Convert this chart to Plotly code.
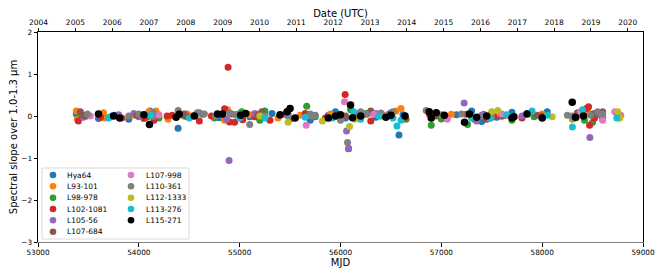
import datetime
import plotly.graph_objects as go

# ---- data ----
stars = ["Hya64", "L93-101", "L98-978", "L102-1081", "L105-56", "L107-684",
         "L107-998", "L110-361", "L112-1333", "L113-276", "L115-271"]
colors = ["#1f77b4", "#ff7f0e", "#2ca02c", "#d62728", "#9467bd", "#8c564b",
          "#e377c2", "#7f7f7f", "#bcbd22", "#17becf", "#000000"]

hya64_mjd = [53380, 53420, 53600, 53760, 53900, 54110, 54180, 54389, 54560, 54800, 54980, 55100,
             55320, 55500, 55700, 55950, 56050, 56200, 56350, 56580, 56620, 56950, 57150, 57300,
             57400, 57550, 57700, 57850, 58050, 58400, 58600, 58750, 56480, 55880, 57330]
hya64_slope = [0.05, -0.03, -0.06, 0.02, -0.08, 0.12, 0.05, -0.29, 0.02, -0.04, 0.04, -0.02,
               0.06, -0.07, -0.10, 0.10, -0.05, 0.08, -0.03, -0.45, 0.03, 0.07, 0.03, 0.12,
               -0.13, -0.03, 0.09, 0.06, 0.10, 0.02, -0.05, 0.00, 0.04, 0.02, -0.08]

l93_mjd = [53380, 53390, 53650, 53660, 53950, 54100, 54170, 54290, 54480, 54520, 54850, 54880,
           55100, 55380, 55600, 55900, 56010, 56300, 56550, 56600, 56900, 57100, 57500, 57800,
           58000, 58300, 58450, 58760, 56420, 57560, 58340]
l93_slope = [0.12, -0.08, 0.08, -0.05, 0.02, 0.10, 0.12, -0.08, 0.05, 0.00, -0.10, 0.15,
             0.03, -0.05, 0.02, 0.05, -0.02, 0.08, 0.12, 0.18, -0.05, 0.04, 0.08, -0.02,
             0.05, -0.08, 0.10, -0.05, 0.03, 0.06, -0.04]

l98_mjd = [53430, 53700, 54080, 54200, 54450, 54630, 54750, 55200, 55250, 55665, 55750, 56100,
           56250, 56400, 56650, 56900, 57000, 57260, 57350, 57700, 57920, 58350, 58420, 58500, 58550,
           55020, 56170]
l98_slope = [0.02, -0.04, -0.03, -0.05, 0.00, 0.04, -0.05, -0.10, 0.12, 0.23, -0.02, 0.15,
             0.06, 0.00, -0.08, -0.22, -0.07, -0.20, -0.05, -0.10, -0.02, 0.05, -0.10, -0.15, 0.03,
             0.10, 0.03]

l102_mjd = [53400, 53450, 53620, 53830, 54150, 54280, 54480, 54600, 54720, 54850, 54885, 54900,
            54950, 55150, 55300, 55450, 55650, 55850, 56046, 56080, 56150, 56300, 56500, 56640,
            56880, 57050, 57250, 57450, 57600, 57800, 58000, 58440, 58460, 58470, 58520,
            54050, 54330, 55030, 56220, 57520, 57640, 58500]
l102_slope = [-0.12, 0.00, -0.03, -0.05, -0.10, 0.00, -0.02, -0.12, 0.00, 0.17, 1.16, -0.14,
              -0.15, -0.02, -0.10, 0.04, 0.06, -0.05, 0.51, -0.78, -0.05, -0.12, 0.00, -0.04,
              0.05, -0.05, 0.04, -0.08, 0.00, -0.05, 0.00, 0.18, 0.22, -0.22, -0.05,
              -0.06, 0.02, -0.09, 0.03, -0.02, 0.02, 0.04]

l105_mjd = [53450, 53800, 53950, 54000, 54150, 54600, 54870, 54895, 55150, 55480, 55720, 56060,
            56080, 56250, 56350, 57226, 57350, 57400, 57800, 58473, 58550, 58600, 56290, 57420]
l105_slope = [-0.03, 0.03, 0.06, -0.02, -0.01, 0.08, -0.08, -1.06, 0.06, 0.04, 0.00, -0.36,
              -0.77, 0.04, 0.06, 0.31, -0.12, 0.02, 0.00, -0.51, 0.05, -0.02, 0.08, 0.04]

l107a_mjd = [53420, 53450, 53480, 53980, 54450, 54920, 55220, 55400, 56050, 56300, 56500, 56950,
             57600, 57950, 58350, 58520, 58600, 55180, 56180]
l107a_slope = [0.10, 0.02, 0.00, 0.02, 0.05, 0.05, 0.10, 0.02, 0.00, 0.12, 0.08, 0.00,
               0.00, 0.02, 0.08, 0.06, 0.10, 0.03, 0.02]

l107b_mjd = [53520, 54200, 54980, 55660, 55950, 56040, 56200, 56450, 57060, 57600, 58380, 58600,
             58720, 58780, 56330]
l107b_slope = [0.00, 0.03, 0.02, -0.22, 0.00, 0.34, 0.05, 0.00, -0.08, 0.05, 0.10, -0.10,
               0.10, 0.02, 0.04]

l110_mjd = [53490, 53900, 54000, 54140, 54390, 54580, 54650, 54760, 54900, 54960, 55100, 55250,
            55480, 55700, 55750, 56000, 56070, 56200, 56400, 56850, 57000, 57200, 57300, 57500,
            57700, 58250, 58300, 58550, 58600, 58750, 55720, 56260, 56520, 57400, 58480]
l110_slope = [0.05, 0.00, 0.05, 0.08, 0.13, 0.08, 0.05, 0.00, 0.07, 0.03, -0.20, 0.00,
              0.00, 0.05, 0.02, -0.10, -0.63, 0.10, 0.07, 0.13, 0.03, 0.05, -0.05, -0.03,
              -0.02, 0.02, 0.00, 0.10, 0.05, 0.03, 0.00, 0.04, 0.10, 0.00, 0.02]

l112_mjd = [55200, 55480, 55820, 56090, 56140, 57500, 57560, 58100, 58750, 58770]
l112_slope = [0.00, -0.15, -0.12, -0.25, -0.08, 0.10, 0.13, -0.02, 0.10, -0.05]

l113_mjd = [53700, 53730, 54120, 54500, 55000, 55250, 55650, 55920, 56200, 56380, 56520, 56560,
            56600, 57300, 57650, 57900, 58050, 58300, 58320, 58400, 58740, 56130, 57480]
l113_slope = [-0.05, 0.00, 0.02, -0.05, -0.05, -0.05, -0.03, -0.05, -0.08, 0.00, -0.05, -0.24,
              -0.10, -0.03, 0.03, 0.12, 0.02, -0.26, -0.05, 0.15, -0.05, 0.10, -0.06]

l115_mjd = [53600, 53750, 53810, 54050, 54105, 54370, 54400, 54550, 54780, 54830, 55010, 55060,
            55400, 55470, 55500, 55550, 55880, 55950, 56000, 56100, 56120, 56200, 56450, 56500,
            56640, 56880, 56900, 56950, 57030, 57230, 57280, 57350, 57450, 57700, 57720, 57850,
            58000, 58298, 58330, 58410]
l115_slope = [0.05, 0.00, -0.05, 0.03, -0.20, -0.03, 0.04, 0.00, 0.05, 0.05, 0.02, 0.06,
              0.03, 0.10, 0.18, -0.05, -0.05, 0.00, 0.03, 0.26, -0.04, 0.00, -0.03, 0.02,
              0.00, 0.10, -0.05, 0.08, 0.02, -0.15, 0.05, -0.03, 0.00, -0.05, -0.02, 0.05,
              -0.05, 0.33, -0.03, 0.00]

series_mjd = [hya64_mjd, l93_mjd, l98_mjd, l102_mjd, l105_mjd, l107a_mjd,
              l107b_mjd, l110_mjd, l112_mjd, l113_mjd, l115_mjd]
series_slope = [hya64_slope, l93_slope, l98_slope, l102_slope, l105_slope, l107a_slope,
                l107b_slope, l110_slope, l112_slope, l113_slope, l115_slope]

mjd_ticks = [53000, 54000, 55000, 56000, 57000, 58000, 59000]
slope_ticks = [-3, -2, -1, 0, 1, 2]
years = list(range(2004, 2021))

# ---- figure ----
# the page body has an 8px default margin, so the figure is made 8px smaller
OFF = 8
W, H = 664 - OFF, 277 - OFF
ML, MR, MT, MB = 38 - OFF, 21, 32 - OFF, 35
PW, PH = W - ML - MR, H - MT - MB

mjd_epoch = datetime.date(1858, 11, 17)
year_mjd = [(datetime.date(y, 1, 1) - mjd_epoch).days for y in years]

fig = go.Figure()
for name, col, xs, ys in zip(stars, colors, series_mjd, series_slope):
    fig.add_trace(go.Scatter(
        x=xs, y=ys, mode="markers", name=name, showlegend=False,
        marker=dict(color=col, size=7.5 if col == "#000000" else 7, line=dict(width=0)),
    ))
# carrier trace for the top (date) axis
fig.add_trace(go.Scatter(x=[None], y=[None], xaxis="x2", showlegend=False, hoverinfo="skip"))

font = "DejaVu Sans"
fig.update_layout(
    width=W, height=H,
    margin=dict(l=ML, r=MR, t=MT, b=MB, pad=0, autoexpand=False),
    paper_bgcolor="white", plot_bgcolor="white",
    font=dict(family=font, color="black", size=7.5),
    xaxis=dict(
        range=[53000, 59000], tickvals=mjd_ticks, ticktext=[str(v) for v in mjd_ticks],
        ticks="outside", ticklen=3.5, tickwidth=0.8, automargin=False,
        tickcolor="black", showgrid=False, zeroline=False, showline=True, linecolor="#808080",
        linewidth=1.3, tickfont=dict(size=7.3),
        title=dict(text="MJD", font=dict(size=10), standoff=2),
    ),
    xaxis2=dict(
        overlaying="x", side="top", anchor="y", range=[53000, 59000], automargin=False,
        tickvals=year_mjd, ticktext=[str(y) for y in years],
        ticks="outside", ticklen=3.5, tickwidth=0.8, tickcolor="black",
        showgrid=False, zeroline=False, showline=True, linecolor="black", linewidth=1,
        tickfont=dict(size=7.5),
        title=dict(text="Date (UTC)", font=dict(size=10), standoff=2),
    ),
    yaxis=dict(
        range=[-3, 2], tickvals=slope_ticks, ticks="outside", ticklen=3.5, tickwidth=0.8,
        tickcolor="black", showgrid=False, zeroline=False, showline=True, linecolor="black",
        linewidth=1, mirror=True, tickfont=dict(size=7.3), automargin=False,
        title=dict(text="Spectral slope over 1.0-1.3 μm", font=dict(size=10), standoff=5),
    ),
)

# ---- hand-built legend (two columns, compact like the reference) ----
def px2paper(px, py):
    # px, py are page pixel coordinates
    return (px - OFF - ML) / PW, (MT + PH - (py - OFF)) / PH

shapes = []
annotations = []
bx0, by0 = px2paper(42, 239)
bx1, by1 = px2paper(189, 168)
shapes.append(dict(type="rect", xref="paper", yref="paper", x0=bx0, y0=by0, x1=bx1, y1=by1,
                   line=dict(color="#d0d0d0", width=0.8), fillcolor="rgba(255,255,255,0.8)",
                   layer="above"))
row_y = [175, 186.3, 197.7, 209, 220.3, 231.7]
for i, (name, col) in enumerate(zip(stars, colors)):
    c = 0 if i < 6 else 1
    r = i if i < 6 else i - 6
    mx = 53 if c == 0 else 131
    tx = 65 if c == 0 else 144
    mxp, myp = px2paper(mx, row_y[r])
    shapes.append(dict(type="circle", xref="paper", yref="paper", xsizemode="pixel",
                       ysizemode="pixel", xanchor=mxp, yanchor=myp, x0=-3.3, x1=3.3,
                       y0=-3.3, y1=3.3, fillcolor=col, line=dict(width=0), layer="above"))
    txp, typ = px2paper(tx, row_y[r])
    annotations.append(dict(text=name, xref="paper", yref="paper", x=txp, y=typ,
                            xanchor="left", yanchor="middle", showarrow=False,
                            font=dict(size=7.5, family=font, color="black")))
fig.update_layout(shapes=shapes, annotations=annotations)

fig.write_html("out.html")
